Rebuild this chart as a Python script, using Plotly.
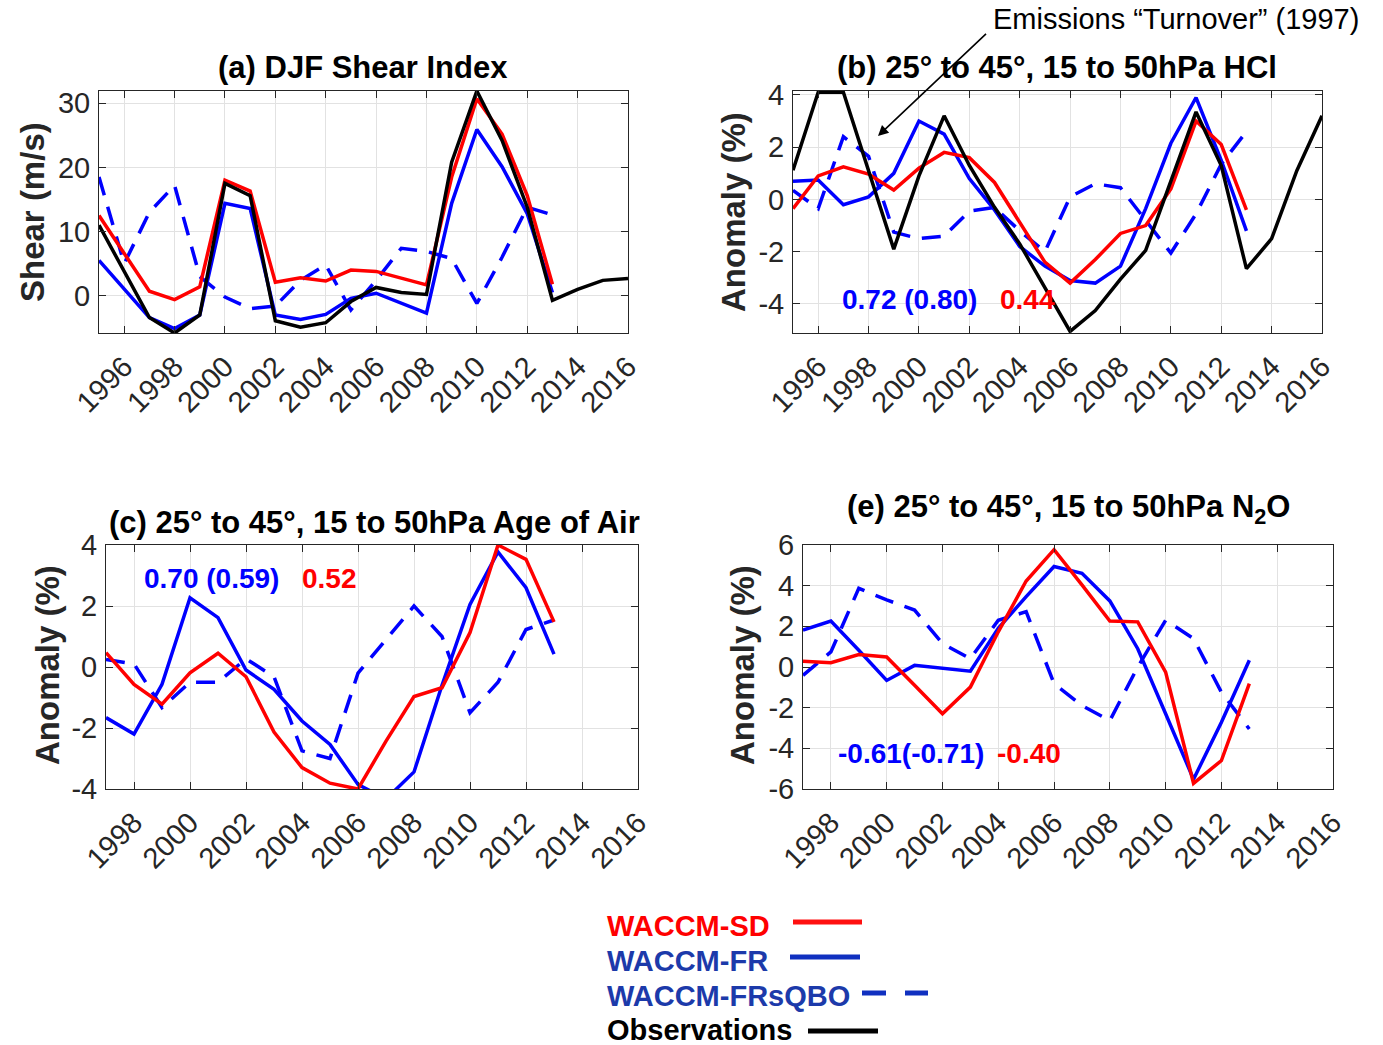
import plotly.graph_objects as go

W, H = 1383, 1045

# ---------------- data ----------------
years_a_mod = list(range(1995, 2014))
years_a_obs = list(range(1995, 2017))
a_sd = [12.5, 6.6, 0.7, -0.6, 1.4, 18.0, 16.3, 2.1, 2.8, 2.3, 4.0, 3.8, 2.7, 1.7, 18.5, 30.7, 25.2, 15.6, 1.8]
a_fr = [5.5, 1.0, -3.4, -5.1, -3.0, 14.4, 13.6, -3.0, -3.7, -2.9, -0.4, 0.4, -1.2, -2.7, 14.4, 25.9, 20.1, 12.8, 0.5]
a_frsqbo = [18.5, 5.0, 13.0, 17.2, 3.0, -0.2, -2.0, -1.6, 2.4, 4.8, -2.2, 2.4, 7.4, 6.9, 5.8, -1.2, 6.0, 13.8, 12.6]
a_obs = [11.0, 3.8, -3.4, -5.8, -3.0, 17.5, 15.6, -3.9, -4.9, -4.2, -0.9, 1.3, 0.5, 0.2, 20.8, 31.9, 24.2, 13.8, -0.7, 1.0, 2.4, 2.7]

years_b_mod = list(range(1995, 2014))
years_b_obs = list(range(1995, 2017))
b_sd = [-0.35, 0.9, 1.25, 0.97, 0.36, 1.2, 1.8, 1.6, 0.65, -0.9, -2.4, -3.2, -2.3, -1.3, -1.0, 0.4, 3.0, 2.1, -0.4]
b_fr = [0.7, 0.74, -0.2, 0.1, 1.0, 3.0, 2.5, 0.8, -0.4, -1.8, -2.55, -3.1, -3.2, -2.55, -0.35, 2.15, 3.9, 1.5, -1.2]
b_frsqbo = [0.35, -0.35, 2.4, 1.65, -1.25, -1.5, -1.4, -0.45, -0.3, -1.2, -2.0, 0.1, 0.6, 0.45, -0.8, -2.05, -0.55, 1.35, 2.6]
b_obs = [1.12, 4.1, 4.1, 1.1, -1.9, 0.9, 3.2, 1.3, -0.3, -1.7, -3.4, -5.05, -4.25, -3.05, -1.95, 0.7, 3.35, 1.3, -2.65, -1.5, 1.1, 3.2]

years_c = list(range(1997, 2014))
c_sd = [0.47, -0.57, -1.22, -0.19, 0.45, -0.32, -2.13, -3.3, -3.81, -4.0, -2.43, -0.97, -0.68, 1.13, 4.0, 3.53, 1.48]
c_fr = [-1.66, -2.2, -0.57, 2.27, 1.62, -0.1, -0.73, -1.77, -2.54, -3.85, -4.33, -3.44, -0.6, 2.05, 3.77, 2.6, 0.42]
c_frsqbo = [0.25, 0.1, -1.33, -0.5, -0.5, 0.27, -0.32, -2.75, -3.0, -0.2, 0.9, 2.0, 1.0, -1.5, -0.5, 1.23, 1.54]

years_e = list(range(1997, 2014))
e_sd = [0.28, 0.21, 0.61, 0.49, -0.9, -2.3, -0.99, 1.73, 4.23, 5.77, 4.04, 2.26, 2.22, -0.25, -5.72, -4.6, -0.82]
e_fr = [1.81, 2.26, 0.82, -0.66, 0.08, -0.08, -0.21, 1.9, 3.46, 4.94, 4.61, 3.25, 0.9, -2.3, -5.52, -2.72, 0.33]
e_frsqbo = [-0.41, 0.74, 3.87, 3.3, 2.8, 1.15, 0.41, 2.3, 2.72, -0.82, -1.9, -2.64, 0.0, 2.3, 1.4, -1.24, -3.05]

ticks_ab = list(range(1996, 2017, 2))
ticks_ce = list(range(1998, 2017, 2))
yticks_a = [0, 10, 20, 30]
yticks_b = [-4, -2, 0, 2, 4]
yticks_c = [-4, -2, 0, 2, 4]
yticks_e = [-6, -4, -2, 0, 2, 4, 6]

titles = ["(a) DJF Shear Index",
          "(b) 25° to 45°, 15 to 50hPa HCl",
          "(c) 25° to 45°, 15 to 50hPa Age of Air",
          "(e) 25° to 45°, 15 to 50hPa N<sub>2</sub>O"]
ylabels = ["Shear (m/s)", "Anomaly (%)", "Anomaly (%)", "Anomaly (%)"]
legend_names = ["WACCM-SD", "WACCM-FR", "WACCM-FRsQBO", "Observations"]

# ---------------- styles ----------------
RED = "#ff0000"
BLUE = "#0000ff"
BLACK = "#000000"
LW = 3.5
DASH = "19px,12px"
FONT = "Liberation Sans, Arial, Helvetica, sans-serif"
AXC = "#262626"


def px(x):
    return x / W


def py(y):
    return 1 - y / H


fig = go.Figure()


def add(xs, ys, color, dash, axis):
    fig.add_trace(go.Scatter(x=xs, y=ys, mode="lines",
                             line=dict(color=color, width=LW, dash=dash),
                             xaxis="x" + axis, yaxis="y" + axis,
                             showlegend=False, hoverinfo="skip"))


# panel a
add(years_a_mod, a_frsqbo, BLUE, DASH, "")
add(years_a_mod, a_fr, BLUE, "solid", "")
add(years_a_mod, a_sd, RED, "solid", "")
add(years_a_obs, a_obs, BLACK, "solid", "")
# panel b
add(years_b_mod, b_frsqbo, BLUE, DASH, "2")
add(years_b_mod, b_fr, BLUE, "solid", "2")
add(years_b_mod, b_sd, RED, "solid", "2")
add(years_b_obs, b_obs, BLACK, "solid", "2")
# panel c
add(years_c, c_frsqbo, BLUE, DASH, "3")
add(years_c, c_fr, BLUE, "solid", "3")
add(years_c, c_sd, RED, "solid", "3")
# panel e
add(years_e, e_frsqbo, BLUE, DASH, "4")
add(years_e, e_fr, BLUE, "solid", "4")
add(years_e, e_sd, RED, "solid", "4")


def common(size):
    return dict(showline=True, linecolor=AXC, linewidth=1, mirror="ticks",
                ticks="inside", ticklen=7, tickcolor=AXC, automargin=False,
                showgrid=True, gridcolor="#e2e2e2", gridwidth=1, zeroline=False,
                tickfont=dict(family=FONT, size=size, color=AXC))


def xax(dom, rng, tv, anchor):
    d = common(29)
    d.update(domain=[px(dom[0]), px(dom[1])], range=rng, tickvals=tv,
             ticktext=[str(t) for t in tv], tickangle=-45, anchor=anchor,
             ticklabelstandoff=4)
    return d


def yax(dom, rng, tv, anchor):
    d = common(29)
    d.update(domain=[py(dom[1]), py(dom[0])], range=rng, tickvals=tv,
             ticktext=[str(t) for t in tv], anchor=anchor, ticklabelstandoff=2)
    return d


fig.update_layout(
    template="none",
    width=W, height=H, margin=dict(l=0, r=0, t=0, b=0, pad=0, autoexpand=False),
    paper_bgcolor="white", plot_bgcolor="white", showlegend=False,
    xaxis=xax([99, 628], [1995, 2016], ticks_ab, "y"),
    yaxis=yax([91, 333], [-5.8, 31.9], yticks_a, "x"),
    xaxis2=xax([793, 1322], [1995, 2016], ticks_ab, "y2"),
    yaxis2=yax([91, 333], [-5.11, 4.15], yticks_b, "x2"),
    xaxis3=xax([106, 638], [1997, 2016], ticks_ce, "y3"),
    yaxis3=yax([545, 789], [-4, 4], yticks_c, "x3"),
    xaxis4=xax([803, 1333], [1997, 2016], ticks_ce, "y4"),
    yaxis4=yax([545, 789], [-6, 6], yticks_e, "x4"),
)

ann = []
# titles
title_pos = [(363, 68), (1057, 68), (374, 522), (1068, 509)]
for t, (x, y) in zip(titles, title_pos):
    ann.append(dict(text="<b>" + t + "</b>", x=px(x), y=py(y), xref="paper", yref="paper",
                    showarrow=False, xanchor="center", yanchor="middle",
                    font=dict(family=FONT, size=31, color="black")))
# y labels
ylab_pos = [(32, 212), (733, 212), (47, 665), (742, 665)]
for t, (x, y) in zip(ylabels, ylab_pos):
    ann.append(dict(text="<b>" + t + "</b>", x=px(x), y=py(y), xref="paper", yref="paper",
                    showarrow=False, xanchor="center", yanchor="middle", textangle=-90,
                    font=dict(family=FONT, size=33, color="#262626")))
# correlation labels
corr = [("0.72 (0.80)", BLUE, 840, 300), ("0.44", RED, 998, 300),
        ("0.70 (0.59)", BLUE, 142, 578), ("0.52", RED, 300, 578),
        ("-0.61(-0.71)", BLUE, 836, 753), ("-0.40", RED, 995, 753)]
for t, c, x, y in corr:
    ann.append(dict(text="<b>" + t + "</b>", x=px(x), y=py(y), xref="paper", yref="paper",
                    showarrow=False, xanchor="left", yanchor="middle",
                    font=dict(family=FONT, size=28, color=c)))
# emissions turnover annotation
ann.append(dict(text="Emissions \u201cTurnover\u201d (1997)", x=px(991), y=py(19),
                xref="paper", yref="paper", showarrow=False, xanchor="left", yanchor="middle",
                font=dict(family=FONT, size=29, color="black")))
ann.append(dict(text=" ", x=px(878), y=py(136), xref="paper", yref="paper",
                showarrow=True, ax=110, ay=-104, arrowhead=2, arrowsize=1.3,
                arrowwidth=1.6, arrowcolor="black", font=dict(size=2)))

# legend (manual)
leg_col_text = [RED, "#1c3aaa", "#1c3aaa", "black"]
leg_y = [926, 961, 996, 1030]
for t, c, y in zip(legend_names, leg_col_text, leg_y):
    ann.append(dict(text="<b>" + t + "</b>", x=px(605), y=py(y), xref="paper", yref="paper",
                    showarrow=False, xanchor="left", yanchor="middle",
                    font=dict(family=FONT, size=29, color=c)))
fig.update_layout(annotations=ann)

shapes = []
shapes.append(dict(type="line", xref="paper", yref="paper", x0=px(793), x1=px(862),
                   y0=py(922), y1=py(922), line=dict(color="#ff1010", width=5)))
shapes.append(dict(type="line", xref="paper", yref="paper", x0=px(790), x1=px(860),
                   y0=py(957), y1=py(957), line=dict(color="#1030c0", width=5)))
shapes.append(dict(type="line", xref="paper", yref="paper", x0=px(862), x1=px(886),
                   y0=py(993), y1=py(993), line=dict(color="#1030c0", width=5)))
shapes.append(dict(type="line", xref="paper", yref="paper", x0=px(905), x1=px(928),
                   y0=py(993), y1=py(993), line=dict(color="#1030c0", width=5)))
shapes.append(dict(type="line", xref="paper", yref="paper", x0=px(808), x1=px(878),
                   y0=py(1031), y1=py(1031), line=dict(color="black", width=5)))
fig.update_layout(shapes=shapes)

fig.write_html("out.html")
